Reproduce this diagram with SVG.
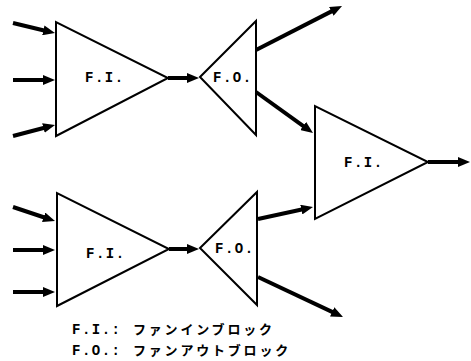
<svg xmlns="http://www.w3.org/2000/svg" width="471" height="361" viewBox="0 0 471 361">
<style>
.blk{fill:#fff;stroke:#000;stroke-width:2;stroke-linejoin:miter}
.lbl{font-family:"Liberation Mono","DejaVu Sans Mono",monospace;font-weight:bold;font-size:14px;letter-spacing:1.5px;fill:#000}
.jp{font-family:"Noto Sans CJK JP",sans-serif;font-weight:bold;font-size:13px;letter-spacing:2.8px;fill:#000}
.arr{stroke:#000;stroke-width:4;fill:none;marker-end:url(#ah)}
</style>
<defs>
<marker id="ah" markerUnits="userSpaceOnUse" viewBox="0 0 12 10" markerWidth="12" markerHeight="10" refX="4" refY="5" orient="auto">
<path d="M0,0 L12,5 L0,10 z" fill="#000"/>
</marker>
</defs>
<g id="fi1">
<polygon class="blk" points="56,22 56,136 168,78"/>
<text class="lbl" x="85" y="82">F.I.</text>
</g>
<g id="fo1">
<polygon class="blk" points="200,77 256,21 256,135"/>
<text class="lbl" x="213" y="82">F.O.</text>
</g>
<g id="fi3">
<polygon class="blk" points="315,106 315,219 428,162"/>
<text class="lbl" x="344" y="167">F.I.</text>
</g>
<g id="fi2">
<polygon class="blk" points="57,193 57,306 169,249"/>
<text class="lbl" x="86" y="258">F.I.</text>
</g>
<g id="fo2">
<polygon class="blk" points="200,248 257,192 257,305"/>
<text class="lbl" x="215" y="253">F.O.</text>
</g>
<g id="connectors">
<line class="arr" x1="13" y1="23" x2="47.2" y2="31.2"/>
<line class="arr" x1="13" y1="80" x2="47" y2="80"/>
<line class="arr" x1="13" y1="136" x2="47.3" y2="127"/>
<line class="arr" x1="168" y1="78" x2="191" y2="78"/>
<line class="arr" x1="256" y1="50" x2="334.9" y2="9.6"/>
<line class="arr" x1="256" y1="92" x2="306.5" y2="128.3"/>
<line class="arr" x1="428" y1="162" x2="462" y2="162"/>
<line class="arr" x1="13" y1="207" x2="47.4" y2="218.5"/>
<line class="arr" x1="13" y1="250" x2="47" y2="250"/>
<line class="arr" x1="13" y1="292" x2="47" y2="292"/>
<line class="arr" x1="169" y1="249" x2="191" y2="249"/>
<line class="arr" x1="258" y1="219" x2="305.2" y2="208.7"/>
<line class="arr" x1="258" y1="277" x2="335.8" y2="313.6"/>
</g>
<g id="legend">
<text class="lbl" x="72" y="334">F.I.:</text>
<text class="jp" x="133" y="334">ファンインブロック</text>
<text class="lbl" x="72" y="355">F.O.:</text>
<text class="jp" x="133" y="355">ファンアウトブロック</text>
</g>
</svg>
